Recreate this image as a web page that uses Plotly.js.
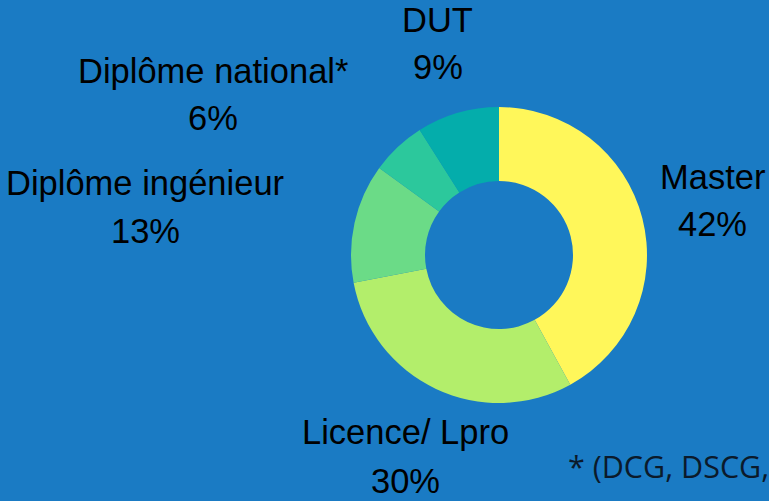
<!DOCTYPE html>
<html>
<head>
<meta charset="utf-8">
<script src="https://cdn.plot.ly/plotly-3.0.1.min.js"></script>
<style>html,body{margin:0;padding:0;background:#1a7bc4;}#chart{width:769px;height:501px;}</style>
</head>
<body>
<div id="chart"></div>
<script>
const categories = ["Master", "Licence/ Lpro", "Diplôme ingénieur", "Diplôme national*", "DUT"];
const values = [42, 30, 13, 6, 9];
const colors = ["#fff75a", "#b3ee6b", "#6bdb87", "#2cc89c", "#04adab"];
const footnote = "* (DCG, DSCG,";

// label placement (pixel centers for name line and percent line)
const labelPos = [
  {x: 712, yName: 176.5, yPct: 224.5},
  {x: 405.5, yName: 431.5, yPct: 480.5},
  {x: 145, yName: 183, yPct: 231},
  {x: 213, yName: 70.5, yPct: 118},
  {x: 437.5, yName: 19.5, yPct: 66.5}
];
const W = 769, H = 501;
const total = values.reduce((a, b) => a + b, 0);

const annotations = [];
categories.forEach((c, i) => {
  const p = labelPos[i];
  const pct = Math.round(values[i] / total * 100) + "%";
  [[c, p.yName], [pct, p.yPct]].forEach(([t, y]) => {
    annotations.push({
      text: t, xref: "paper", yref: "paper",
      x: p.x / W, y: 1 - y / H, xanchor: "center", yanchor: "middle",
      showarrow: false,
      font: {family: "Liberation Sans, Arial, sans-serif", size: 34.5, color: "#000000"}
    });
  });
});
annotations.push({
  text: footnote, xref: "paper", yref: "paper",
  x: 566 / W, y: 1 - 465.5 / H, xanchor: "left", yanchor: "middle",
  showarrow: false,
  font: {family: "Open Sans, sans-serif", size: 30.5, color: "#0b1a2b"}
});

const trace = {
  type: "pie",
  labels: categories,
  values: values,
  hole: 0.5,
  sort: false,
  direction: "clockwise",
  rotation: 0,
  textinfo: "none",
  hoverinfo: "label+percent",
  marker: {colors: colors, line: {width: 0}},
  domain: {x: [351 / W, 647 / W], y: [1 - 403 / H, 1 - 107 / H]},
  showlegend: false
};

Plotly.newPlot("chart", [trace], {
  width: W, height: H,
  margin: {l: 0, r: 0, t: 0, b: 0},
  paper_bgcolor: "#1a7bc4",
  plot_bgcolor: "#1a7bc4",
  showlegend: false,
  annotations: annotations
}, {displayModeBar: false, staticPlot: true});
</script>
</body>
</html>
